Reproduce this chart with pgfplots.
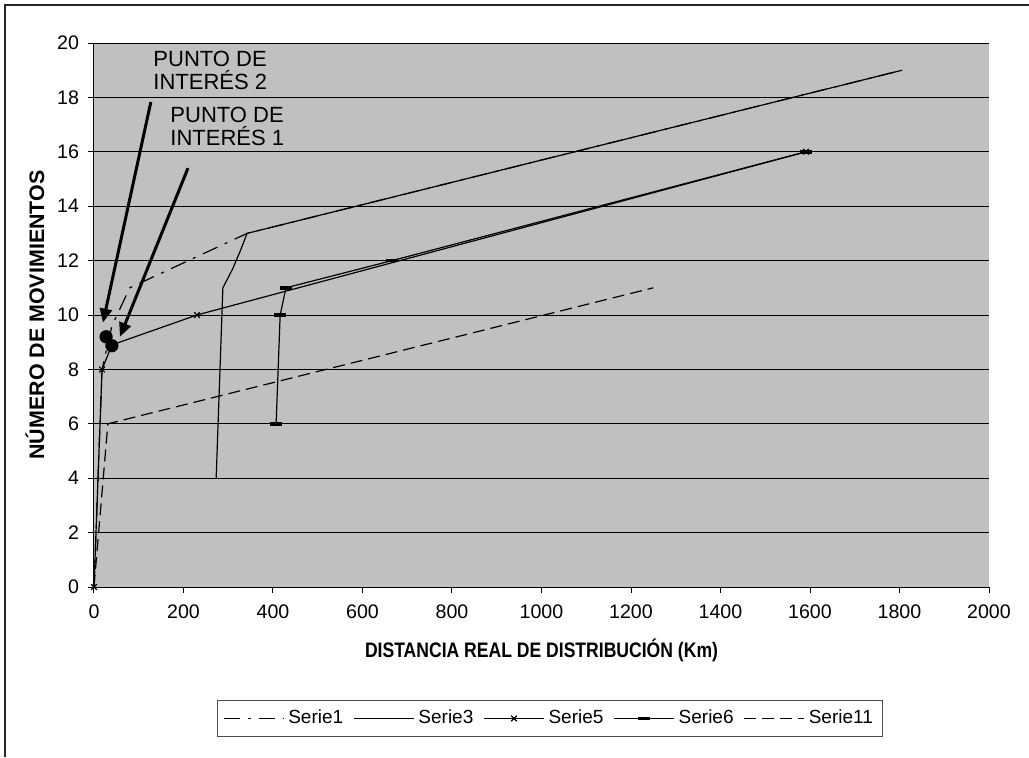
\documentclass[border=0pt]{standalone}
\usepackage{graphicx}
\usepackage{pgfplots}
\pgfplotsset{compat=1.18}
\usepackage{fontspec}
\setmainfont{Liberation Sans}
\usetikzlibrary{arrows.meta}
\definecolor{plotgray}{HTML}{C0C0C0}
\begin{document}
\begin{tikzpicture}
\useasboundingbox (0,0) rectangle (514.5pt,378.5pt);
\draw[line width=1pt,black!85] (2.5pt,0) -- (2.5pt,376pt) -- (514.5pt,376pt);
\begin{axis}[
  at={(47pt,85pt)}, anchor=south west,
  scale only axis, width=447.5pt, height=272pt,
  xmin=0, xmax=2000, ymin=0, ymax=20,
  xtick={0,200,...,2000}, ytick={0,2,...,20},
  axis background/.style={fill=plotgray},
  axis x line*=bottom, axis y line*=left,
  ymajorgrids, major grid style={black, line width=0.5pt},
  tick align=outside, major tick length=3pt,
  tick style={black, line width=0.5pt},
  axis line style={black, line width=0.5pt},
  /pgf/number format/1000 sep={},
  /pgf/number format/assume math mode=true,
  tick label style={font=\fontsize{9.8}{11}\selectfont},
  xticklabel style={yshift=-2.5pt},
  yticklabel style={xshift=-1pt},
  xlabel={\resizebox{176.5pt}{\height}{\fontsize{10.5}{12}\selectfont\bfseries DISTANCIA REAL DE DISTRIBUCIÓN (Km)}},
  ylabel={\resizebox{144.5pt}{\height}{\fontsize{10.5}{12}\selectfont\bfseries NÚMERO DE MOVIMIENTOS}},
  xlabel style={at={(axis description cs:0.5,-0.1158)}, anchor=center},
  ylabel style={at={(axis description cs:-0.0659,0.5)}, anchor=center},
  legend style={at={(axis description cs:0.5095,-0.2417)}, anchor=center,
    draw=black!70, fill=white, font=\fontsize{9.5}{10.5}\selectfont,
    legend columns=5, /tikz/every even column/.append style={column sep=3pt},
    inner xsep=3pt, inner ysep=3pt},
  legend image code/.code={\draw[mark repeat=2,mark phase=2,#1] plot coordinates {(0pt,0pt) (15pt,0pt) (30pt,0pt)};},
  every axis plot/.append style={line width=0.6pt, black},
]
% Serie1
\addplot[dash pattern=on 8pt off 4pt on 1.5pt off 4pt] coordinates {
  (0,0) (18,8) (40,9.6) (80,11) (342,13) (1806,19)};
\addlegendentry{Serie1}
% Serie3
\addplot[solid] coordinates {
  (273,4) (288,11) (310,11.7) (328,12.4) (342,13) (1806,19)};
\addlegendentry{Serie3}
% Serie5
\addplot[solid, mark=x, mark size=2pt, mark options={solid, line width=0.6pt}] coordinates {
  (0,0) (18,8) (40,8.9) (230,10) (1591,16)};
\addlegendentry{Serie5}
% Serie6
\addplot[solid, mark=-, mark size=3pt, mark options={solid, line width=1.8pt}] coordinates {
  (407,6) (416,10) (429,11) (666,12) (1591,16)};
\addlegendentry{Serie6}
% Serie11
\addplot[dash pattern=on 6pt off 3pt] coordinates {
  (0,0) (31,6) (1250,11)};
\addlegendentry{Serie11}
% points of interest
\addplot[only marks, mark=*, mark size=3pt, forget plot] coordinates {(27,9.2) (40,8.87)};
\draw[line width=1.5pt, -{Triangle[length=7pt,width=6pt]}] (axis cs:127,17.83) -- (axis cs:20,9.72);
\draw[line width=1.5pt, -{Triangle[length=7pt,width=6pt]}] (axis cs:210,15.4) -- (axis cs:58,9.2);
\node[anchor=north west, align=left, font=\fontsize{11}{11.5}\selectfont, inner sep=0pt] at (axis cs:132,19.7) {PUNTO DE\\INTERÉS 2};
\node[anchor=north west, align=left, font=\fontsize{11}{11.5}\selectfont, inner sep=0pt] at (axis cs:170,17.64) {PUNTO DE\\INTERÉS 1};
\end{axis}
\end{tikzpicture}
\end{document}
